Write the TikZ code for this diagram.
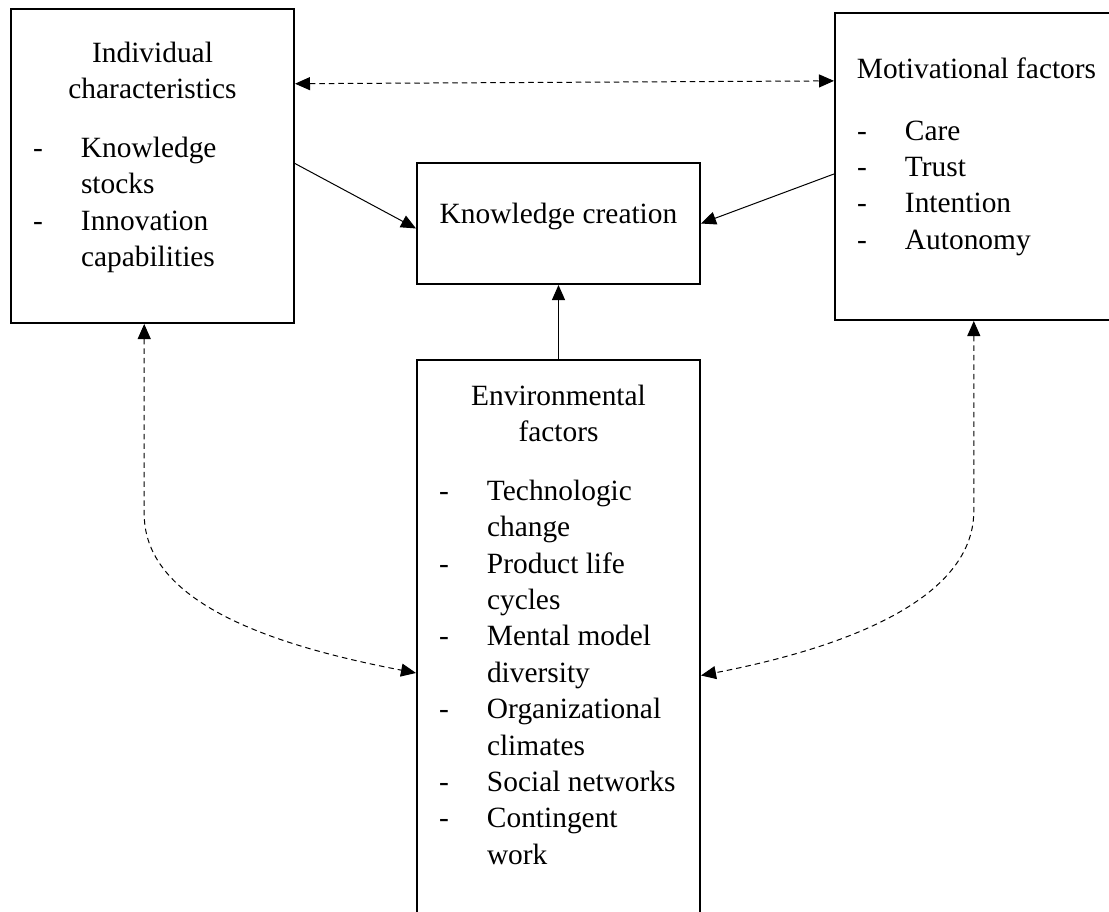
\documentclass[tikz,border=0pt]{standalone}
\usepackage{fontspec}
\setmainfont{Liberation Serif}
\usetikzlibrary{arrows.meta}
\newcommand{\boxtitle}[3][11pt]{\vspace*{#2}{\centering\rule{0pt}{10pt}#3\par}\vspace{#1}}
\newcommand{\dashitem}{\par\noindent\llap{\makebox[24pt][l]{-}}}
\newcommand{\dashlist}[1]{{\raggedright\leftskip=35pt #1\par}}
\begin{document}
\begin{tikzpicture}[x=0.5pt,y=-0.5pt,
  box/.style={draw,line width=1pt,anchor=north west},
  link/.style={-{Triangle[length=7.5pt,width=6.5pt]},line width=0.5pt},
  duallink/.style={{Triangle[length=7.5pt,width=6.5pt]}-{Triangle[length=7.5pt,width=6.5pt]},line width=0.5pt,dash pattern=on 2.75pt off 2pt}]
\tikzstyle{every node}+=[inner sep=0pt,font=\fontsize{14.7}{18.2}\selectfont]
\useasboundingbox (0,0) rectangle (1109,911);
\node[box] (indiv) at (10,8) {\begin{minipage}[t][157pt][t]{141.5pt}
\boxtitle{16.5pt}{Individual\\characteristics}
\dashlist{\dashitem Knowledge\\stocks \dashitem Innovation\\capabilities}
\end{minipage}};
\node[box] (kc) at (416,162) {\begin{minipage}[t][60.5pt][t]{141.5pt}
\boxtitle{20pt}{Knowledge creation}
\end{minipage}};
\node[box] (motiv) at (834,12) {\begin{minipage}[t][153.5pt][t]{141.5pt}
\boxtitle[12.5pt]{22.5pt}{Motivational factors}
\dashlist{\dashitem Care \dashitem Trust \dashitem Intention \dashitem Autonomy}
\end{minipage}};
\node[box] (env) at (416,359) {\begin{minipage}[t][300.5pt][t]{141.5pt}
\boxtitle{12.5pt}{Environmental\\factors}
\dashlist{\dashitem Technologic\\change \dashitem Product life\\cycles
\dashitem Mental model\\diversity \dashitem Organizational\\climates
\dashitem Social networks \dashitem Contingent\\work}
\end{minipage}};
\draw[duallink] (indiv.30) -- (motiv.149);
\draw[link] (indiv.1) -- (kc.182);
\draw[link] (motiv.183) -- (kc.east);
\draw[link] (env.north) -- (kc.south);
\draw[duallink] (indiv.267) -- ++(0,190) .. controls +(0,93) and +(-130,-25) .. (env.185);
\draw[duallink] (motiv.269) -- ++(0,190) .. controls +(0,93) and +(130,-25) .. (env.354);
\end{tikzpicture}
\end{document}
